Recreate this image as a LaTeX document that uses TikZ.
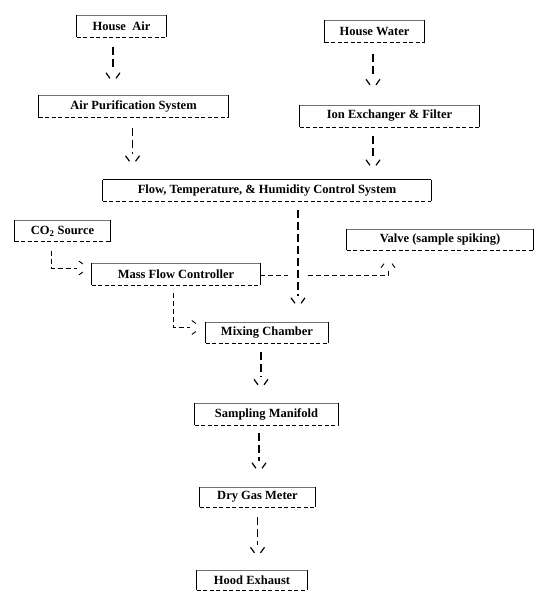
\documentclass[tikz,border=0pt]{standalone}
\usepackage{fontspec}
\setmainfont{Liberation Serif}
\usetikzlibrary{arrows.meta}

% Punta abierta "\ /"
\pgfdeclarearrow{
  name = Vabierta,
  setup code = {
    \pgfarrowssettipend{0pt}
    \pgfarrowssetlineend{-11pt}
    \pgfarrowssetbackend{-9pt}
    \pgfarrowshullpoint{-9pt}{7pt}
    \pgfarrowshullpoint{-9pt}{-7pt}
    \pgfarrowshullpoint{0pt}{0pt}
  },
  drawing code = {
    \pgfpathmoveto{\pgfqpoint{-9pt}{7pt}}
    \pgfpathlineto{\pgfqpoint{-3.5pt}{3pt}}
    \pgfpathmoveto{\pgfqpoint{-9pt}{-7pt}}
    \pgfpathlineto{\pgfqpoint{-3.5pt}{-3pt}}
    \pgfusepathqstroke
  }
}

\tikzset{
  unidad/.style={minimum height=22pt, inner sep=0pt, font=\fontsize{12.5}{15}\selectfont\bfseries},
  flujo/.style={line width=1.2pt, dash pattern=on 8pt off 4pt, -Vabierta, shorten <=10pt, shorten >=15pt},
  enlace/.style={line width=0.9pt, dash pattern=on 5pt off 3pt}
}

\begin{document}
\begin{tikzpicture}[x=1pt,y=-1pt]
  % Marco
  \useasboundingbox (0,0) rectangle (550,607);

  % Entradas
  \node[unidad, minimum width=89pt] (air) at (121.5,26) {House\ \ Air};
  \node[unidad, minimum width=99pt] (water) at (374.5,31.5) {House Water};
  % Tratamiento
  \node[unidad, minimum width=189pt] (purif) at (133.5,106.5) {Air Purification System};
  \node[unidad, minimum width=179pt] (ionx) at (389.5,116) {Ion Exchanger \& Filter};
  % Control
  \node[unidad, minimum width=328pt, minimum height=21pt] (ctrl) at (267,190.5) {Flow, Temperature, \& Humidity Control System};
  % CO2 y valvula
  \node[unidad, minimum width=95pt, minimum height=21pt] (co2) at (62.5,231) {CO\textsubscript{2} Source};
  \node[unidad, minimum width=168pt] (mfc) at (176,274) {Mass Flow Controller};
  \node[unidad, minimum width=186pt, minimum height=21pt] (valve) at (440,239.5) {Valve (sample spiking)};
  % Linea de muestra
  \node[unidad, minimum width=122pt, minimum height=21pt] (mix) at (267,332.5) {Mixing Chamber};
  \node[unidad, minimum width=143pt] (manifold) at (266.5,414) {Sampling Manifold};
  \node[unidad, minimum width=115pt, minimum height=20pt] (meter) at (257.5,497) {Dry Gas Meter};
  \node[unidad, minimum width=110pt, minimum height=20pt] (hood) at (252,580) {Hood Exhaust};

  % Bordes de las cajas
  \foreach \u in {air,water,purif,ionx,co2,mfc,valve,mix,manifold,meter,hood}
    \draw[black!55, line width=0.5pt] (\u.north west) -- (\u.north east);
  \draw[line width=1pt] (ctrl.north west) -- (ctrl.north east);
  \foreach \u in {air,water,purif,ionx,ctrl,co2,mfc,valve,mix,manifold,meter,hood}{
    \draw[line width=1.3pt] (\u.north west) -- (\u.south west) (\u.north east) -- (\u.south east);
    \draw[line width=0.9pt, dash pattern=on 4pt off 2.5pt] (\u.south west) -- (\u.south east);
  }

  % Flechas verticales
  \draw[flujo, shorten >=13.5pt] ([xshift=-8.5pt]air.south) -- ([xshift=-8.5pt]air.south |- purif.north);
  \draw[flujo, shorten <=11pt, shorten >=16.5pt] ([xshift=-1.5pt]water.south) -- ([xshift=-1.5pt]water.south |- ionx.north);
  \draw[flujo] ([xshift=-1pt]purif.south) -- ([xshift=-1pt]purif.south |- ctrl.north);
  \draw[flujo, shorten <=9pt, shorten >=11pt] ([xshift=-16.5pt]ionx.south) -- ([xshift=-16.5pt]ionx.south |- ctrl.north);
  \coordinate (drop) at ([xshift=31pt]ctrl.south);
  \draw[flujo, shorten <=9pt] (drop) -- (drop |- mix.north);
  \draw[flujo, shorten <=9pt, shorten >=14.5pt] ([xshift=-6pt]mix.south) -- ([xshift=-6pt]mix.south |- manifold.north);
  \draw[flujo, shorten <=8pt] ([xshift=-7.5pt]manifold.south) -- ([xshift=-7.5pt]manifold.south |- meter.north);
  \draw[flujo, shorten >=13.5pt] (meter.south) -- (meter.south |- hood.north);

  % CO2 al controlador
  \draw[enlace, -Vabierta, shorten <=9pt, shorten >=4pt] ([xshift=-11.5pt]co2.south) |- ([yshift=6pt]mfc.west);
  % Controlador a la camara
  \draw[enlace, -Vabierta, shorten <=8pt, shorten >=5pt] ([xshift=-3pt]mfc.south) |- ([yshift=5pt]mix.west);
  % Controlador a la valvula
  \coordinate (jumpL) at ([xshift=-10pt,yshift=-1.5pt]drop |- mfc.east);
  \coordinate (jumpR) at ([xshift=10pt,yshift=-1.5pt]drop |- mfc.east);
  \draw[enlace] ([yshift=-1.5pt]mfc.east) -- (jumpL);
  \draw[enlace, -Vabierta, shorten >=8.5pt] (jumpR) -| ([xshift=-52pt]valve.south);
\end{tikzpicture}
\end{document}
